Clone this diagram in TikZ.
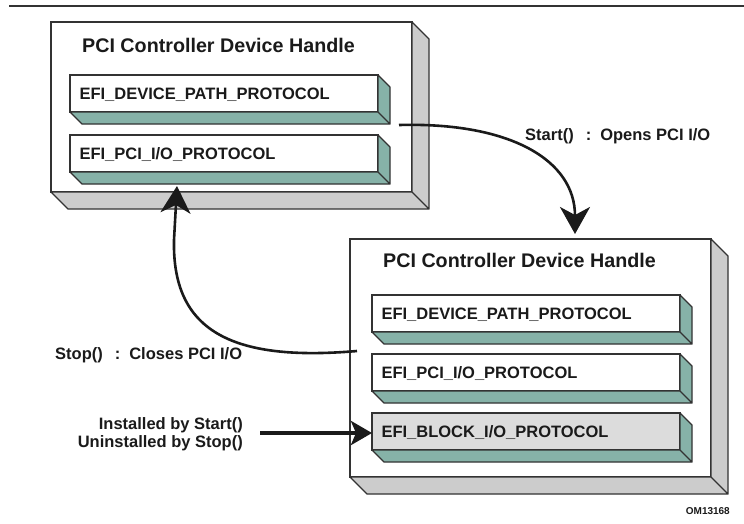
\documentclass[tikz,border=0pt]{standalone}
\usepackage{fontspec}
\setmainfont{Liberation Sans}
\usetikzlibrary{arrows.meta,calc}
\definecolor{teal3d}{HTML}{86B2A8}
\definecolor{side3d}{HTML}{CCCCCC}
\definecolor{bargray}{HTML}{DCDCDC}
\definecolor{edge}{HTML}{333333}
\definecolor{ink}{HTML}{1A1A1A}
\newcommand\slabfaces[3]{%
  \filldraw[draw=edge, fill=#3, line width=1.2pt, line join=round]
    (#1.north east) -- ($(#1.north east)+(#2,#2)$) -- ($(#1.south east)+(#2,#2)$) -- (#1.south east) -- cycle
    (#1.south west) -- (#1.south east) -- ($(#1.south east)+(#2,#2)$) -- ($(#1.south west)+(#2,#2)$) -- cycle;}
\begin{document}
\begin{tikzpicture}[x=1pt,y=-1pt,
  handlebox/.style={draw=edge, fill=white, line width=1.3pt, anchor=north west,
    minimum width=361pt, inner sep=0pt, outer sep=0pt},
  protobox/.style={draw=edge, fill=white, line width=1.2pt, anchor=north west,
    minimum height=37pt, text width=289pt, align=left, inner xsep=9.5pt, inner ysep=0pt,
    outer sep=0pt, text=ink, font=\bfseries\fontsize{16.5}{19}\selectfont,
    text height=11.8pt, text depth=0pt},
  titletext/.style={anchor=base west, inner sep=0pt, text=ink,
    font=\bfseries\fontsize{19.7}{23}\selectfont},
  labeltext/.style={inner sep=0pt, text=ink, font=\bfseries\fontsize{16.5}{19}\selectfont},
  conn/.style={draw=ink, line width=2.6pt,
    -{Stealth[length=27pt,width=30pt,inset=8pt]}},
  thickconn/.style={draw=ink, line width=4.5pt,
    -{Stealth[length=21pt,width=24pt,inset=5pt]}}
]
\path[fill=white] (0,0) rectangle (744,523);
\useasboundingbox (0,0) rectangle (744,523);

% top rule
\coordinate (ruleL) at (9,6);
\coordinate (ruleR) at (744,6);
\draw[draw=edge, line width=2pt] (ruleL) -- (ruleR);

% upper handle
\node[handlebox, minimum height=170pt] (box1) at (51,22) {};
\slabfaces{box1}{17}{side3d}
\node[titletext] (title1) at (82,52) {PCI Controller Device Handle};
\node[protobox] (p1a) at (70,75) {EFI\_DEVICE\_PATH\_PROTOCOL};
\slabfaces{p1a}{12}{teal3d}
\node[protobox] (p1b) at (70,135) {EFI\_PCI\_I/O\_PROTOCOL};
\slabfaces{p1b}{12}{teal3d}

% lower handle
\node[handlebox, minimum height=238pt] (box2) at (350,239) {};
\slabfaces{box2}{17}{side3d}
\node[titletext] (title2) at (383,267) {PCI Controller Device Handle};
\node[protobox] (p2a) at (372,295) {EFI\_DEVICE\_PATH\_PROTOCOL};
\slabfaces{p2a}{12}{teal3d}
\node[protobox] (p2b) at (372,354) {EFI\_PCI\_I/O\_PROTOCOL};
\slabfaces{p2b}{12}{teal3d}
\node[protobox, fill=bargray] (p2c) at (372,413) {EFI\_BLOCK\_I/O\_PROTOCOL};
\slabfaces{p2c}{12}{teal3d}

% labels
\node[labeltext, anchor=base west] (startlbl) at (525,140)
  {Start()\hspace{12pt}:\hspace{9pt}Opens PCI I/O};
\node[labeltext, anchor=base west] (stoplbl) at (55,359)
  {Stop()\hspace{12pt}:\hspace{9pt}Closes PCI I/O};
\node[labeltext, anchor=base east] (inst1) at (243,429) {Installed by Start()};
\node[labeltext, anchor=base east] (inst2) at (243,447) {Uninstalled by Stop()};
\node[inner sep=0pt, anchor=base east, text=ink, font=\bfseries\fontsize{10}{12}\selectfont]
  (omlbl) at (730,514) {OM13168};

% connectors
\coordinate (startA) at (399,125);
\coordinate (startB) at (575,234);
\draw[conn] (startA) .. controls (510,122) and (575,160) .. (startB);

\coordinate (stopA) at (357,351);
\coordinate (stopM) at (174,240);
\coordinate (stopB) at (177,186);
\draw[conn] (stopA) .. controls (230,362) and (172,330) .. (stopM) -- (stopB);

\coordinate (instA) at (260,433);
\draw[thickconn] (instA) -- (instA -| p2c.west);
\end{tikzpicture}
\end{document}
